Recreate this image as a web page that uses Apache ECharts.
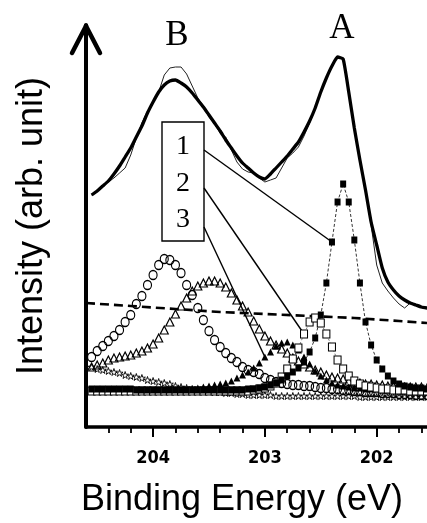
<!DOCTYPE html>
<html lang="en">
<head>
    <meta charset="UTF-8">
    <title>XPS spectrum</title>
    <script type="text/javascript" src="https://cdn.jsdelivr.net/npm/echarts@6/dist/echarts.min.js"></script>
    <style>
        html, body { margin: 0; padding: 0; background: #fff; }
    </style>
</head>
<body>
<div id="chart" style="width: 427px;height:523px;"></div>
<script>

    // binding energy grid (eV)
    var energy = [204.55, 204.50, 204.45, 204.40, 204.35, 204.30, 204.25, 204.20, 204.15, 204.10,
        204.05, 204.00, 203.95, 203.90, 203.85, 203.80, 203.75, 203.70, 203.65, 203.60,
        203.55, 203.50, 203.45, 203.40, 203.35, 203.30, 203.25, 203.20, 203.15, 203.10,
        203.05, 203.00, 202.95, 202.90, 202.85, 202.80, 202.75, 202.70, 202.65, 202.60,
        202.55, 202.50, 202.45, 202.40, 202.35, 202.30, 202.25, 202.20, 202.15, 202.10,
        202.05, 202.00, 201.95, 201.90, 201.85, 201.80, 201.75, 201.70, 201.65, 201.60,
        201.55];

    // measured spectrum (thin line)
    var raw = [235, 239, 244, 248, 252, 257, 262, 275, 292, 307,
        319, 327, 338, 355, 362, 363, 363, 356, 344, 332,
        324, 313, 306, 297, 293, 280, 268, 261, 258, 257,
        252, 248, 250, 252, 262, 272, 277, 283, 294, 307,
        321, 338, 353, 365, 372, 371, 338, 302, 270, 240,
        205, 165, 147, 139, 132, 126, 122, 127, 125, 123,
        121];
    // fitted envelope (thick line)
    var fit = [235, 239, 244, 249, 256, 264, 273, 282, 293, 304,
        317, 328, 338, 345, 349, 350, 347, 343, 337, 330,
        323, 315, 307, 299, 290, 282, 274, 267, 262, 257,
        253, 251, 256, 262, 268, 274, 281, 288, 298, 309,
        322, 338, 352, 364, 373, 371, 338, 302, 270, 240,
        208, 185, 162, 148, 140, 134, 130, 127, 125, 123,
        122];
    // open circles
    var circles = [73, 79, 84, 89, 94, 100, 108, 115, 126, 134,
        145, 155, 165, 171, 170, 165, 157, 145, 135, 122,
        110, 99, 90, 83, 77, 72, 68, 63, 60, 58,
        56, 52, 50, 48, 47, 46, 45, 45, 44, 44,
        43, 42, 42, 41, 41, 40, 40, 39, 39, 38,
        38, 38, 37, 37, 37, 36, 36, 36, 35, 35,
        35];
    // open triangles
    var openTri = [63, 65, 67, 70, 72, 73, 74, 75, 77, 79,
        82, 86, 92, 100, 108, 116, 124, 132, 139, 144,
        147, 149, 149, 147, 143, 137, 130, 124, 118, 109,
        101, 94, 89, 85, 81, 77, 72, 69, 66, 63,
        60, 58, 55, 53, 52, 51, 49, 48, 47, 46,
        46, 45, 45, 44, 44, 43, 43, 43, 43, 43,
        42];
    // component 1 (filled squares)
    var fillSq = [41, 41, 41, 41, 41, 41, 41, 41, 40, 40,
        40, 40, 40, 40, 40, 40, 40, 40, 40, 40,
        40, 40, 40, 40, 40, 40, 40, 40, 41, 41,
        42, 43, 45, 47, 50, 54, 58, 62, 68, 78,
        92, 115, 147, 188, 228, 246, 228, 190, 147, 108,
        85, 70, 61, 54, 49, 46, 44, 43, 42, 42,
        41];
    // component 2 (open squares)
    var openSq = [39, 39, 39, 39, 39, 39, 39, 39, 39, 39,
        39, 39, 39, 39, 39, 39, 39, 39, 39, 39,
        39, 39, 39, 39, 39, 39, 39, 39, 39, 40,
        41, 42, 44, 47, 53, 61, 71, 82, 96, 108,
        112, 107, 96, 83, 70, 61, 54, 49, 46, 44,
        43, 42, 41, 41, 40, 40, 40, 39, 39, 39,
        39];
    // component 3 (filled triangles)
    var fillTri = [40, 40, 40, 40, 40, 40, 40, 40, 40, 40,
        40, 40, 40, 40, 40, 40, 40, 40, 41, 42,
        43, 44, 45, 46, 47, 49, 52, 55, 58, 62,
        67, 73, 78, 84, 87, 88, 85, 80, 73, 66,
        59, 54, 50, 47, 45, 44, 43, 42, 42, 41,
        41, 41, 40, 40, 40, 40, 39, 39, 39, 39,
        39];
    // lowest component (small stars)
    var stars = [63, 61, 60, 59, 58, 57, 55, 54, 53, 52,
        50, 49, 48, 47, 46, 44, 43, 42, 41, 40,
        40, 39, 38, 38, 37, 37, 36, 36, 35, 35,
        35, 35, 35, 34, 34, 34, 34, 34, 34, 34,
        34, 34, 34, 34, 34, 34, 34, 34, 33, 33,
        33, 33, 33, 33, 33, 33, 33, 33, 33, 33,
        33];
    // background (dashed)
    var dashE = [204.6, 204.2, 203.8, 203.4, 203.0, 202.6, 202.2, 201.8, 201.55];
    var dashV = [127, 124, 121, 118, 116, 114, 112, 109, 107];

    var majorTicks = [204, 203, 202];
    var tickLabels = ['204', '203', '202'];
    var minorTicks = [204.4, 204.2, 203.8, 203.6, 203.4, 203.2, 202.8, 202.6, 202.4, 202.2, 201.8, 201.6];

    function pairs(ys, xs) {
        xs = xs || energy;
        var out = [];
        for (var i = 0; i < ys.length; i++) {
            out.push([xs[i], ys[i]]);
        }
        return out;
    }

    var hollow = {color: 'rgba(0,0,0,0)', borderColor: '#000', borderWidth: 1.2};
    var starPath = 'path://M50,0 L61,35 L98,35 L68,57 L79,91 L50,70 L21,91 L32,57 L2,35 L39,35 Z';

    var option = {
        animation: false,
        grid: {left: 86, right: 0, top: 25, bottom: 96, outerBoundsMode: 'none'},
        xAxis: [{
            type: 'value',
            min: 201.55,
            max: 204.6,
            inverse: true,
            position: 'bottom',
            splitLine: {show: false},
            axisLine: {lineStyle: {color: '#000', width: 3.5}},
            axisTick: {customValues: majorTicks, length: 10, lineStyle: {color: '#000', width: 2}},
            axisLabel: {
                customValues: majorTicks,
                margin: 22,
                color: '#000',
                fontSize: 18,
                fontWeight: 'bold',
                fontFamily: 'Liberation Sans Narrow, DejaVu Sans Condensed, Liberation Sans',
                formatter: function (v) {
                    return tickLabels[majorTicks.indexOf(v)];
                }
            }
        }, {
            type: 'value',
            min: 201.55,
            max: 204.6,
            inverse: true,
            position: 'bottom',
            offset: 0,
            splitLine: {show: false},
            axisLine: {show: false},
            axisTick: {customValues: minorTicks, length: 6, lineStyle: {color: '#000', width: 1.8}},
            axisLabel: {show: false}
        }],
        yAxis: {
            type: 'value',
            min: 3,
            max: 405,
            splitLine: {show: false},
            axisLine: {show: true, lineStyle: {color: '#000', width: 4}},
            axisTick: {show: false},
            axisLabel: {show: false}
        },
        series: [{
            name: 'background',
            type: 'line',
            showSymbol: false,
            data: pairs(dashV, dashE),
            lineStyle: {color: '#000', width: 2.6, type: [9, 5]}
        }, {
            name: 'stars',
            type: 'line',
            symbol: starPath,
            symbolSize: 7,
            data: pairs(stars),
            itemStyle: {color: 'rgba(0,0,0,0)', borderColor: '#000', borderWidth: 0.9},
            lineStyle: {opacity: 0}
        }, {
            name: 'circles',
            type: 'line',
            symbol: 'circle',
            symbolSize: [8, 9],
            data: pairs(circles),
            itemStyle: hollow,
            lineStyle: {opacity: 0}
        }, {
            name: 'openTri',
            type: 'line',
            symbol: 'triangle',
            symbolSize: [8, 8],
            data: pairs(openTri),
            itemStyle: hollow,
            lineStyle: {opacity: 0}
        }, {
            name: '3',
            type: 'line',
            symbol: 'triangle',
            symbolSize: [7, 7],
            data: pairs(fillTri),
            itemStyle: {color: '#000'},
            lineStyle: {opacity: 0}
        }, {
            name: '2',
            type: 'line',
            symbol: 'rect',
            symbolSize: [7, 8],
            data: pairs(openSq),
            itemStyle: {color: '#fff', borderColor: '#000', borderWidth: 1.1},
            lineStyle: {color: '#444', width: 0.7, type: [2, 2]}
        }, {
            name: '1',
            type: 'line',
            symbol: 'rect',
            symbolSize: [6, 7],
            data: pairs(fillSq),
            itemStyle: {color: '#000'},
            lineStyle: {color: '#000', width: 0.8, type: [3, 2]}
        }, {
            name: 'raw',
            type: 'line',
            showSymbol: false,
            data: pairs(raw),
            lineStyle: {color: '#222', width: 1}
        }, {
            name: 'fit',
            type: 'line',
            showSymbol: false,
            smooth: 0.15,
            data: pairs(fit),
            lineStyle: {color: '#000', width: 3.3}
        }]
    };

    var myChart = echarts.init(document.getElementById('chart'), null, {renderer: 'canvas'});
    myChart.setOption(option);

    // annotations: arrow head, peak labels, titles, box with leader lines
    var toPx = function (e, v) {
        return myChart.convertToPixel({xAxisIndex: 0, yAxisIndex: 0}, [e, v]);
    };
    var tip = toPx(204.6, 405);
    var leaderTargets = [[fillSq, 43], [openSq, 38], [fillTri, 31]];
    var boxRows = [150, 188, 227];
    var arrowStyle = {stroke: '#000', lineWidth: 4.5, lineCap: 'round'};
    var graphics = [{
        type: 'line', z: 100,
        shape: {x1: tip[0] - 14, y1: tip[1] + 28, x2: tip[0], y2: tip[1] + 1},
        style: arrowStyle
    }, {
        type: 'line', z: 100,
        shape: {x1: tip[0] + 14, y1: tip[1] + 28, x2: tip[0], y2: tip[1] + 1},
        style: arrowStyle
    }, {
        type: 'rect',
        shape: {x: 162, y: 122, width: 42, height: 119},
        style: {fill: '#fff', stroke: '#000', lineWidth: 1.4}
    }, {
        type: 'text', x: 177, y: 36,
        style: {text: 'B', font: '35px "Liberation Serif"', fill: '#000', align: 'center', verticalAlign: 'middle'}
    }, {
        type: 'text', x: 342, y: 29,
        style: {text: 'A', font: '35px "Liberation Serif"', fill: '#000', align: 'center', verticalAlign: 'middle'}
    }, {
        type: 'text', x: 242, y: 500,
        style: {text: 'Binding Energy (eV)', font: '36px "Liberation Sans"', fill: '#000', align: 'center', verticalAlign: 'middle'}
    }, {
        type: 'text', x: 32, y: 226, rotation: Math.PI / 2,
        style: {text: 'Intensity (arb. unit)', font: '36px "Liberation Sans"', fill: '#000', align: 'center', verticalAlign: 'middle'}
    }];
    ['1', '2', '3'].forEach(function (t, k) {
        graphics.push({
            type: 'text', x: 183, y: [147, 184, 220][k],
            style: {text: t, font: '28px "Liberation Serif"', fill: '#000', align: 'center', verticalAlign: 'middle'}
        });
        var s = leaderTargets[k];
        var p = toPx(energy[s[1]], s[0][s[1]]);
        graphics.push({
            type: 'line',
            shape: {x1: 204, y1: boxRows[k], x2: p[0], y2: p[1]},
            style: {stroke: '#000', lineWidth: 1.4}
        });
    });
    myChart.setOption({graphic: graphics});

</script>
</body>
</html>
